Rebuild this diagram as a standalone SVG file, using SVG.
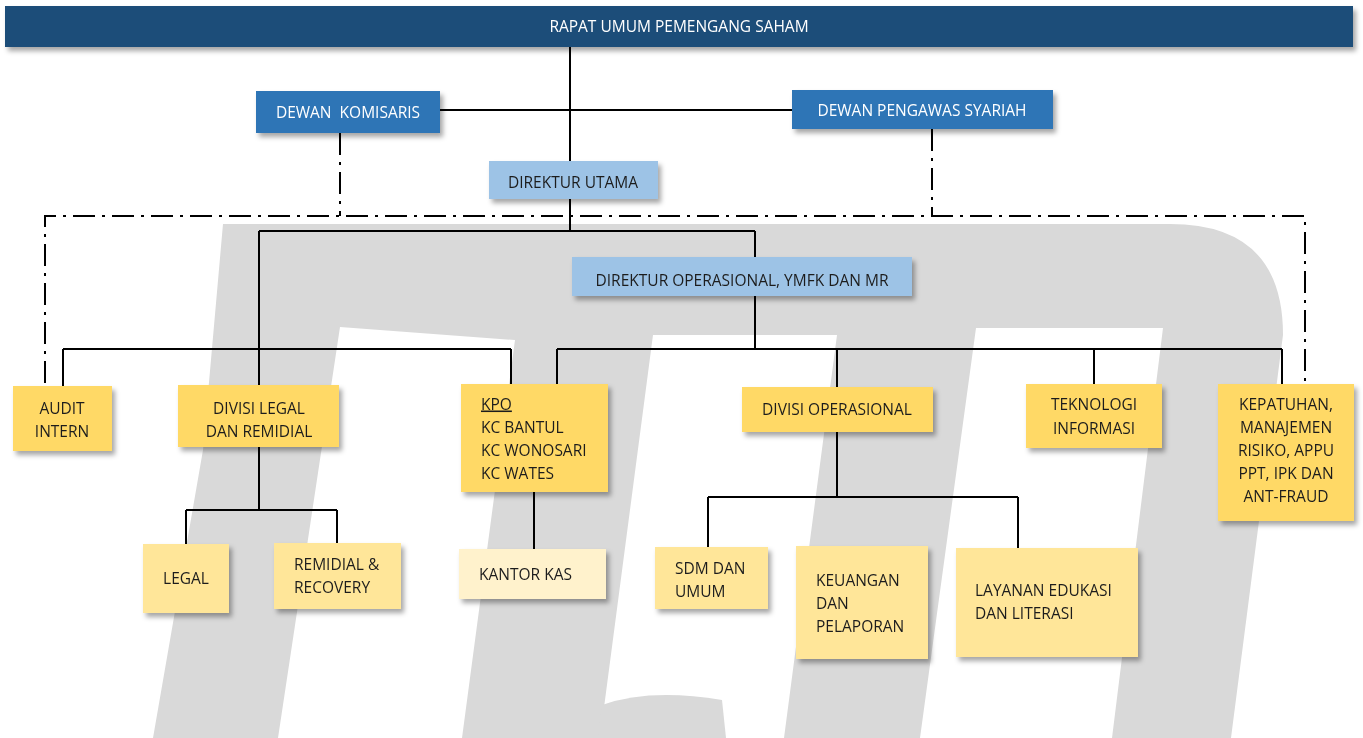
<svg xmlns="http://www.w3.org/2000/svg" width="1363" height="738" viewBox="0 0 1363 738">
<style>
text{font-family:"Open Sans","Noto Sans",sans-serif;font-size:15.5px;fill:#1e1e1e}
.w{fill:#ffffff}
.c{text-anchor:middle}
.dk{fill:#1f4e79}
.bl{fill:#2e75b6}
.lb{fill:#9dc3e6}
.y1{fill:#ffd966}
.y2{fill:#ffe699}
.y3{fill:#fff2cc}
.ln{fill:none;stroke:#000;stroke-width:2}
.dd{fill:none;stroke:#000;stroke-width:2;stroke-dasharray:22 7 3 7}
.box{filter:url(#sh)}
</style>
<defs>
<filter id="sh" x="-20%" y="-20%" width="140%" height="150%">
<feDropShadow dx="3" dy="4" stdDeviation="2.5" flood-color="#000" flood-opacity="0.35"/>
</filter>
</defs>
<rect width="1363" height="738" fill="#ffffff"/>
<g id="watermark" fill="#d9d9d9">
<path d="M223,224 L1170,224 Q1283,224 1283,335 L1231,738 L1112,738 L1163,328 L976,328 L920,738 L784,738 L837,335 L653,335 L600,738 L462,738 L515,340 L340,327 L278,738 L153,738 L203,450 Z"/>
<path d="M598,738 L602,705 Q650,688 722,700 L726,738 Z"/>
</g>
<g id="connectors">
<path class="ln" d="M570,47 V162 M440,110 H792 M570,199 V231 M259,231 H755 M259,231 V386 M755,231 V257 M755,296 V349 M63,349 H511 M63,349 V386 M511,349 V384 M557,349 H1282 M557,349 V384 M837,349 V387 M1094,349 V384 M1282,349 V384 M259,447 V510 M186,510 H337 M186,510 V544 M337,510 V543 M534,492 V549 M837,432 V497 M708,497 H1018 M708,497 V547 M1018,497 V548"/>
<path class="dd" d="M340,133 V216 M932,129 V216 M45,383 V216 H1305 V383"/>
</g>
<g id="rups" class="box"><rect class="dk" x="5" y="6" width="1348" height="41"/><text class="w c" x="679" y="31.5">RAPAT UMUM PEMENGANG SAHAM</text></g>
<g id="dewan-komisaris" class="box"><rect class="bl" x="256" y="91" width="184" height="42"/><text class="w c" x="348" y="117.5" xml:space="preserve">DEWAN  KOMISARIS</text></g>
<g id="dewan-pengawas" class="box"><rect class="bl" x="792" y="90" width="261" height="39"/><text class="w c" x="922" y="115.5">DEWAN PENGAWAS SYARIAH</text></g>
<g id="direktur-utama" class="box"><rect class="lb" x="489" y="161" width="169" height="38"/><text class="c" x="573" y="187.5">DIREKTUR UTAMA</text></g>
<g id="direktur-operasional" class="box"><rect class="lb" x="572" y="257" width="340" height="39"/><text class="c" x="742" y="285.5">DIREKTUR OPERASIONAL, YMFK DAN MR</text></g>
<g id="audit" class="box"><rect class="y1" x="13" y="386" width="99" height="65"/><text class="c" x="62" y="414">AUDIT</text><text class="c" x="62" y="437">INTERN</text></g>
<g id="divisi-legal" class="box"><rect class="y1" x="178" y="385" width="161" height="62"/><text class="c" x="259" y="414">DIVISI LEGAL</text><text class="c" x="259" y="437">DAN REMIDIAL</text></g>
<g id="kpo" class="box"><rect class="y1" x="461" y="384" width="147" height="108"/><text x="481" y="409.5" text-decoration="underline">KPO</text><text x="481" y="432.5">KC BANTUL</text><text x="481" y="455.5">KC WONOSARI</text><text x="481" y="478.5">KC WATES</text></g>
<g id="divisi-operasional" class="box"><rect class="y1" x="742" y="387" width="191" height="45"/><text class="c" x="837" y="414.5">DIVISI OPERASIONAL</text></g>
<g id="teknologi" class="box"><rect class="y1" x="1026" y="384" width="136" height="64"/><text class="c" x="1094" y="409.5">TEKNOLOGI</text><text class="c" x="1094" y="433.5">INFORMASI</text></g>
<g id="kepatuhan" class="box"><rect class="y1" x="1218" y="384" width="136" height="137"/><text class="c" x="1286" y="409.5">KEPATUHAN,</text><text class="c" x="1286" y="432.5">MANAJEMEN</text><text class="c" x="1286" y="456">RISIKO, APPU</text><text class="c" x="1286" y="479">PPT, IPK DAN</text><text class="c" x="1286" y="502">ANT-FRAUD</text></g>
<g id="legal" class="box"><rect class="y2" x="143" y="544" width="86" height="69"/><text class="c" x="186" y="583.5">LEGAL</text></g>
<g id="remidial" class="box"><rect class="y2" x="274" y="543" width="127" height="66"/><text x="294" y="569.5">REMIDIAL &amp;</text><text x="294" y="592.5">RECOVERY</text></g>
<g id="kantor-kas" class="box"><rect class="y3" x="459" y="549" width="147" height="50"/><text x="479" y="579.5">KANTOR KAS</text></g>
<g id="sdm" class="box"><rect class="y2" x="655" y="547" width="113" height="62"/><text x="675" y="573.5">SDM DAN</text><text x="675" y="596.5">UMUM</text></g>
<g id="keuangan" class="box"><rect class="y2" x="796" y="546" width="132" height="113"/><text x="816" y="585.5">KEUANGAN</text><text x="816" y="608.5">DAN</text><text x="816" y="631.5">PELAPORAN</text></g>
<g id="layanan" class="box"><rect class="y2" x="956" y="548" width="182" height="109"/><text x="975" y="595.5">LAYANAN EDUKASI</text><text x="975" y="618.5">DAN LITERASI</text></g>
</svg>
